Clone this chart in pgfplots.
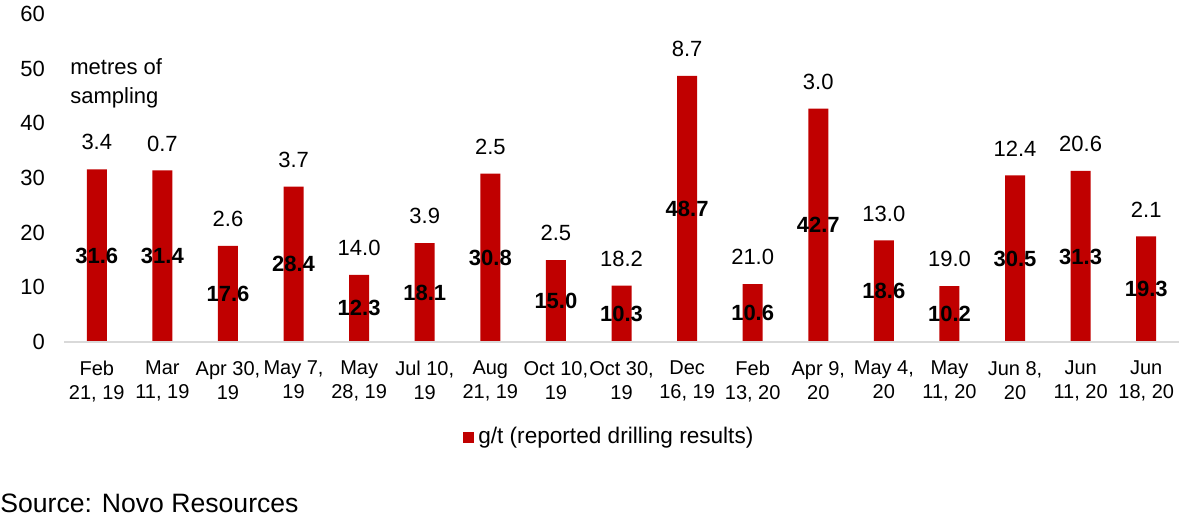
\documentclass[border=0pt]{standalone}
\usepackage{pgfplots}
\pgfplotsset{compat=1.18}
\usepackage{pgfplotstable}
\usepackage{fontspec}
\setmainfont{Liberation Sans}
\definecolor{barred}{HTML}{C00000}
\pgfplotstableread{
x v m
0 31.6 3.4
1 31.4 0.7
2 17.6 2.6
3 28.4 3.7
4 12.3 14.0
5 18.1 3.9
6 30.8 2.5
7 15.0 2.5
8 10.3 18.2
9 48.7 8.7
10 10.6 21.0
11 42.7 3.0
12 18.6 13.0
13 10.2 19.0
14 30.5 12.4
15 31.3 20.6
16 19.3 2.1
}\bars
\pgfplotstableread{
x h l
0 15.8 31.6
1 15.7 31.4
2 8.8 17.6
3 14.2 28.4
4 6.15 12.3
5 9.05 18.1
6 15.4 30.8
7 7.5 15.0
8 5.15 10.3
9 24.35 48.7
10 5.3 10.6
11 21.35 42.7
12 9.3 18.6
13 5.1 10.2
14 15.25 30.5
15 15.65 31.3
16 9.65 19.3
}\mids
\begin{document}
\begin{tikzpicture}[x=0.5pt,y=0.5pt]
\path[use as bounding box] (0,0) rectangle (1193,520);
\begin{axis}[
  at={(32pt,89pt)}, anchor=south west,
  scale only axis, width=557.5pt, height=164pt,
  xmin=-0.5, xmax=16.5, ymin=0, ymax=60,
  ytick={0,10,...,60},
  xtick={0,...,16},
  xticklabels={{Feb\\21, 19},{Mar\\11, 19},{Apr 30,\\19},{May 7,\\19},{May\\28, 19},{Jul 10,\\19},{Aug\\21, 19},{Oct 10,\\19},{Oct 30,\\19},{Dec\\16, 19},{Feb\\13, 20},{Apr 9,\\20},{May 4,\\20},{May\\11, 20},{Jun 8,\\20},{Jun\\11, 20},{Jun\\18, 20}},
  axis x line=bottom, axis y line=left,
  x axis line style={draw=black!15, line width=1pt, -},
  y axis line style={draw=none},
  major tick length=0pt,
  /pgf/number format/assume math mode=true,
  yticklabel style={font=\fontsize{11}{13}\selectfont, xshift=-6pt},
  xticklabel style={align=center, font=\fontsize{10}{12}\selectfont, yshift=-6pt},
  axis on top,
  legend style={at={(0.49,-0.29)}, anchor=center, draw=none, font=\fontsize{11.3}{13}\selectfont, inner sep=0pt},
  legend image code/.code={\fill[barred] (0pt,-2.75pt) rectangle (5.5pt,2.75pt);},
]
\addplot[ybar, bar width=10pt, fill=barred, draw=none,
  nodes near coords, point meta=explicit symbolic,
  every node near coord/.append style={font=\fontsize{11}{13}\selectfont, anchor=south, yshift=6pt, text=black}]
  table[x=x, y=v, meta=m] {\bars};
\addlegendentry{g/t (reported drilling results)}
\addplot[draw=none, mark=none, forget plot,
  nodes near coords, point meta=explicit symbolic,
  every node near coord/.append style={font=\fontsize{11}{13}\selectfont\bfseries, anchor=center, text=black}]
  table[x=x, y=h, meta=l] {\mids};
\end{axis}
\node[anchor=north west, inner sep=0pt, align=left, font=\fontsize{11}{14.5}\selectfont] at (70,462) {metres of\\sampling};
\node[anchor=west, inner sep=0pt, font=\fontsize{13.3}{16}\selectfont] at (0,17) {Source: Novo Resources};
\end{tikzpicture}
\end{document}
